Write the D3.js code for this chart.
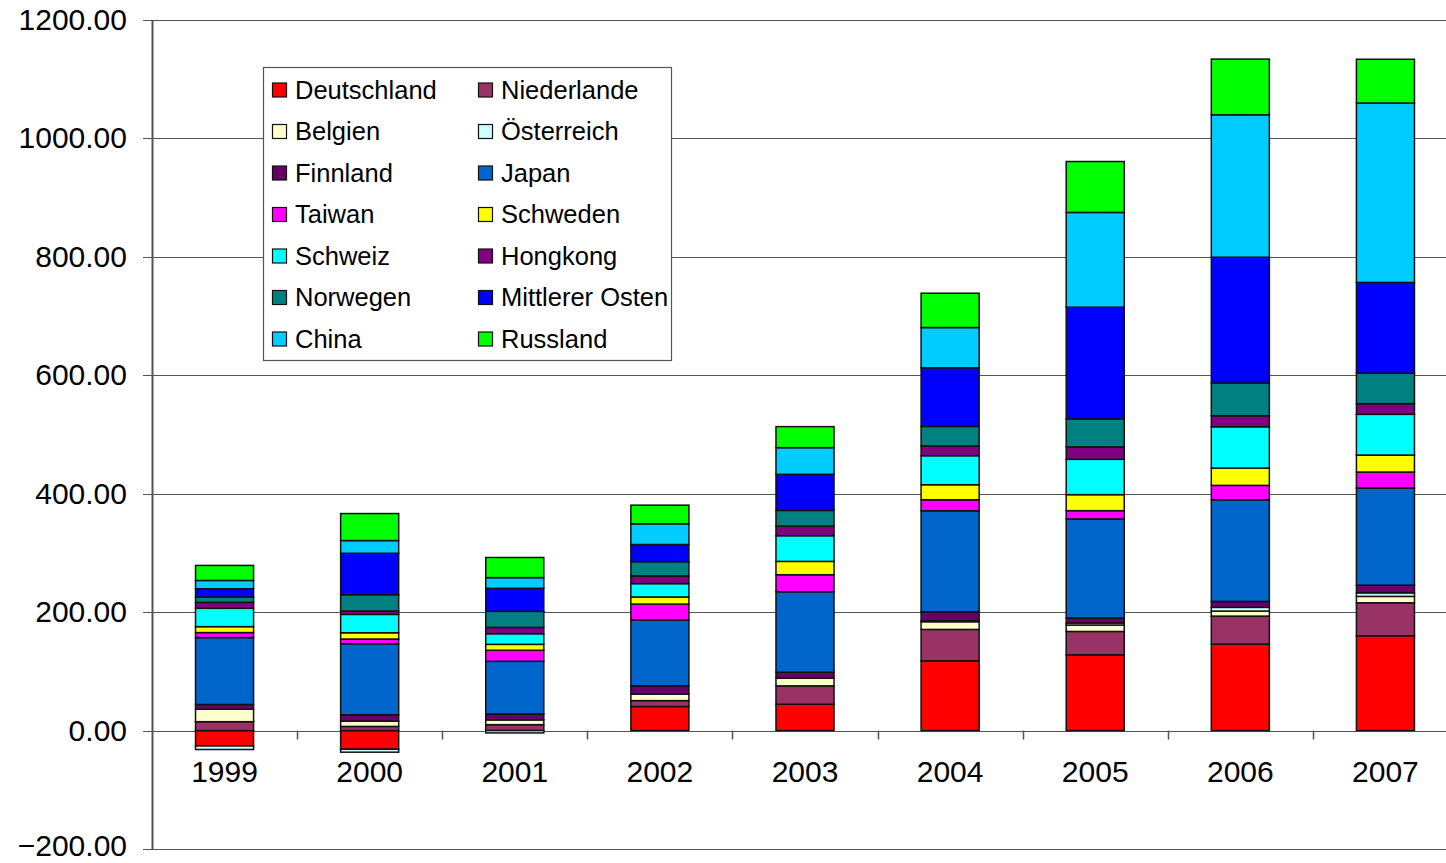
<!DOCTYPE html>
<html>
<head>
<meta charset="utf-8">
<script src="https://cdn.jsdelivr.net/npm/d3@7"></script>
<style>
  body { margin: 0; background: #fff; }
  svg { display: block; font-family: "Liberation Sans", Arial, sans-serif; }
</style>
</head>
<body>
<svg width="1446" height="863"></svg>
<script>
var years = ["1999", "2000", "2001", "2002", "2003", "2004", "2005", "2006", "2007"];

var countries = ["Deutschland", "Niederlande", "Belgien", "Österreich", "Finnland", "Japan", "Taiwan",
  "Schweden", "Schweiz", "Hongkong", "Norwegen", "Mittlerer Osten", "China", "Russland"];

var colors = ["#FF0000", "#993366", "#FFFFCC", "#CCFFFF", "#660066", "#0066CC", "#FF00FF",
  "#FFFF00", "#00FFFF", "#800080", "#008080", "#0000FF", "#00CCFF", "#00FF00"];

// values, one array per country
var deutschland = [-26, -31.5, 0, 40.6, 44.5, 117.8, 128, 146, 160];
var niederlande = [15, 7, 10, 10, 31, 53, 39.4, 47.3, 55.8];
var belgien = [21, 9, 8, 11, 13, 13, 10.8, 8.5, 10.8];
var oesterreich = [-6, -5, -4, 0, 0, 1.5, 3.4, 6.3, 6];
var finnland = [8, 10.6, 10, 14, 10, 15.2, 8.5, 10, 13];
var japan = [113, 120, 89, 111, 136, 170.7, 167.3, 171.7, 164];
var taiwan = [8.5, 8, 18.6, 27, 28.7, 18.6, 14, 24.3, 27];
var schweden = [10, 10.6, 10, 12, 22.5, 25.4, 27, 29.2, 28.7];
var schweiz = [31, 31, 18, 22.6, 43.4, 49, 59.7, 69.8, 68.8];
var hongkong = [10, 5.7, 10.7, 13, 16.2, 16.4, 21, 18.6, 18];
var norwegen = [9, 27.5, 27, 24, 26.5, 33, 47.3, 55.3, 51.4];
var mittlererOsten = [14, 70, 39, 29, 61, 99, 188.6, 212.4, 153.3];
var china = [14, 21.5, 18, 35, 45, 68, 160, 240.5, 303];
var russland = [25.4, 45.6, 34, 31.5, 35.5, 58, 86, 94.1, 73.9];

var yTicks = [-200, 0, 200, 400, 600, 800, 1000, 1200];

var series = [deutschland, niederlande, belgien, oesterreich, finnland, japan, taiwan,
  schweden, schweiz, hongkong, norwegen, mittlererOsten, china, russland];

var table = years.map(function(y, i) {
  var row = { year: y };
  countries.forEach(function(c, j) { row[c] = series[j][i]; });
  return row;
});

var svg = d3.select("svg");

var x = d3.scaleBand()
    .domain(years)
    .range([152, 1458])
    .paddingInner(0.6)
    .paddingOuter(0.3);

var y = d3.scaleLinear()
    .domain([-200, 1200])
    .range([849, 20]);

var color = d3.scaleOrdinal().domain(countries).range(colors);

// grid lines
svg.append("g")
  .selectAll("line")
  .data(yTicks)
  .enter()
  .append("line")
  .attr("x1", 143)
  .attr("x2", 1446)
  .attr("y1", function(d) { return Math.round(y(d)) + 0.5; })
  .attr("y2", function(d) { return Math.round(y(d)) + 0.5; })
  .attr("stroke", "#555")
  .attr("stroke-width", 1.2);

// y labels (bottom one kept inside the page)
svg.append("g")
  .selectAll("text")
  .data(yTicks)
  .enter()
  .append("text")
  .attr("x", 127)
  .attr("y", function(d) { return Math.min(y(d) + 10, 856); })
  .attr("text-anchor", "end")
  .attr("font-size", 30)
  .attr("fill", "#000")
  .text(function(d) { return d3.format(".2f")(d); });

// y axis line
svg.append("line")
  .attr("x1", 152.5).attr("x2", 152.5)
  .attr("y1", y(1200)).attr("y2", y(-200))
  .attr("stroke", "#555")
  .attr("stroke-width", 2);

// x tick marks between categories at zero
var step = x.step();
svg.append("g")
  .selectAll("line")
  .data(years)
  .enter()
  .append("line")
  .attr("x1", function(d) { return Math.round(x(d) + x.bandwidth() / 2 + step / 2) + 0.5; })
  .attr("x2", function(d) { return Math.round(x(d) + x.bandwidth() / 2 + step / 2) + 0.5; })
  .attr("y1", y(0))
  .attr("y2", y(0) + 9)
  .attr("stroke", "#555")
  .attr("stroke-width", 1.5);

// stacked bars
var stack = d3.stack()
    .keys(countries)
    .offset(d3.stackOffsetDiverging);

var layers = stack(table);

svg.append("g")
  .selectAll("g")
  .data(layers)
  .enter()
  .append("g")
  .attr("fill", function(d) { return color(d.key); })
  .selectAll("rect")
  .data(function(d) { return d; })
  .enter()
  .append("rect")
  .attr("x", function(d) { return x(d.data.year); })
  .attr("width", x.bandwidth())
  .attr("y", function(d) { return y(Math.max(d[0], d[1])); })
  .attr("height", function(d) { return Math.abs(y(d[0]) - y(d[1])); })
  .attr("stroke", "#111")
  .attr("stroke-width", 1.5);

// x labels
svg.append("g")
  .selectAll("text")
  .data(years)
  .enter()
  .append("text")
  .attr("x", function(d) { return x(d) + x.bandwidth() / 2; })
  .attr("y", 782)
  .attr("text-anchor", "middle")
  .attr("font-size", 30)
  .attr("fill", "#000")
  .text(function(d) { return d; });

// legend
var legend = svg.append("g");
legend.append("rect")
  .attr("x", 263.5).attr("y", 67.5)
  .attr("width", 408).attr("height", 293)
  .attr("fill", "#fff")
  .attr("stroke", "#555")
  .attr("stroke-width", 1.2);

var item = legend.selectAll("g.item")
  .data(countries)
  .enter()
  .append("g")
  .attr("class", "item")
  .attr("transform", function(d, i) {
    var col = i % 2, row = Math.floor(i / 2);
    return "translate(" + (272 + col * 206) + "," + (90 + row * 41.5) + ")";
  });

item.append("rect")
  .attr("x", 0.5).attr("y", -7)
  .attr("width", 14).attr("height", 14)
  .attr("fill", function(d) { return color(d); })
  .attr("stroke", "#111")
  .attr("stroke-width", 1.2);

item.append("text")
  .attr("x", 23)
  .attr("y", 8.5)
  .attr("font-size", 25.5)
  .attr("fill", "#000")
  .text(function(d) { return d; });
</script>
</body>
</html>
